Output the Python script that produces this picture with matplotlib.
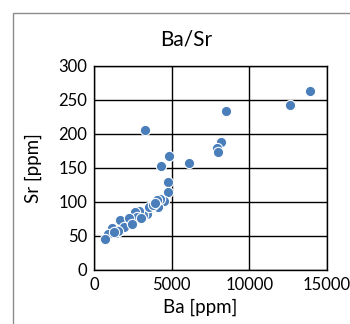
import matplotlib.pyplot as plt
from matplotlib.patches import Rectangle

# Ba / Sr values
ba = [13900, 12600, 8500, 8200, 7900, 8000, 6130, 3250, 4840, 4280,
      4780, 4780, 4520, 4090, 4240, 4020, 3700, 3380, 3160, 2880,
      2620, 2520, 2300, 2150, 1660, 1660, 1400, 1120, 900, 690,
      1900, 2450, 2750, 3000, 1550, 1300, 2250, 2400, 3550, 3800, 3900]
sr = [263, 243, 233, 188, 180, 174, 157, 206, 168, 153,
      130, 114, 102, 92, 105, 103, 95, 83, 81, 86,
      85, 73, 71, 70, 73, 59, 54, 61, 53, 45,
      63, 69, 78, 76, 57, 56, 76, 67, 92, 95, 98]

plt.rcParams['font.family'] = ['Lato', 'DejaVu Sans']

fig = plt.figure(figsize=(3.5, 3.24), dpi=100)
fig.patches.append(Rectangle((13/350, -0.2), 1.2, 1.2 - 13/324,
                             transform=fig.transFigure, fill=False,
                             edgecolor='#8c8c8c', linewidth=1))

ax = fig.add_axes([0.2695, 0.1667, 0.664, 0.630])
ax.scatter(ba, sr, s=55, color='#4a7ebb', edgecolors='white', linewidths=0.8, zorder=3)

ax.set_xlim(0, 15000)
ax.set_ylim(0, 300)
ax.set_xticks([0, 5000, 10000, 15000])
ax.set_yticks(range(0, 301, 50))
ax.grid(True, color='black', linewidth=1)
ax.set_axisbelow(True)
ax.tick_params(length=0, labelsize=12, pad=5)
for sp in ax.spines.values():
    sp.set_color('black')
    sp.set_linewidth(1)

fig.text(186/350, 1 - 40/324, 'Ba/Sr', ha='center', va='center', fontsize=15)
fig.text(200/350, 1 - 307/324, 'Ba [ppm]', ha='center', va='center', fontsize=13.5)
fig.text(33/350, 1 - 168/324, 'Sr [ppm]', ha='center', va='center', fontsize=13.5, rotation=90)

fig.savefig('out.png', dpi=100)
